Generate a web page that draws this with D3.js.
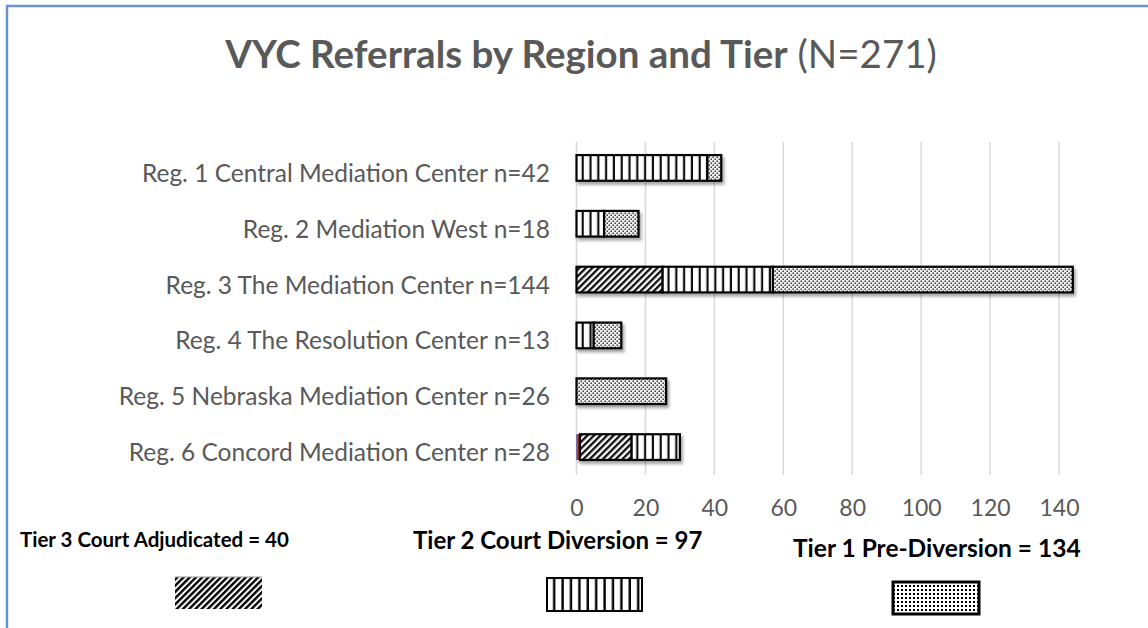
<!DOCTYPE html>
<html>
<head>
<meta charset="utf-8">
<script src="https://cdn.jsdelivr.net/npm/d3@7"></script>
<style>
  body { margin: 0; background: #fff; }
  text { font-family: Lato, "Noto Sans", sans-serif; }
</style>
</head>
<body>
<div id="chart"></div>
<script>
// Chart data
var regions = [
  "Reg. 1 Central Mediation Center n=42",
  "Reg. 2 Mediation West  n=18",
  "Reg. 3 The Mediation Center n=144",
  "Reg. 4 The Resolution Center n=13",
  "Reg. 5 Nebraska Mediation Center n=26",
  "Reg. 6 Concord Mediation Center n=28"
];
var other = [0, 0, 0, 0, 0, 1];
var tier3 = [0, 0, 25, 0, 0, 15];
var tier2 = [38, 8, 32, 5, 0, 14];
var tier1 = [4, 10, 87, 8, 26, 0];
var xTicks = [0, 20, 40, 60, 80, 100, 120, 140];
var legendLabels = ["Tier 3 Court Adjudicated = 40", "Tier 2 Court Diversion = 97", "Tier 1 Pre-Diversion = 134"];
var titleBold = "VYC Referrals by Region and Tier";
var titleRest = " (N=271)";

var width = 1148, height = 628;

var svg = d3.select("#chart").append("svg")
  .attr("width", width)
  .attr("height", height);

svg.append("rect").attr("width", width).attr("height", height).attr("fill", "#fff");

var defs = svg.append("defs");

// Diagonal hatch (tier 3)
var diag = defs.append("pattern")
  .attr("id", "diag").attr("patternUnits", "userSpaceOnUse")
  .attr("width", 4.6).attr("height", 4.6)
  .attr("patternTransform", "rotate(45)");
diag.append("rect").attr("width", 4.6).attr("height", 4.6).attr("fill", "#fff");
diag.append("rect").attr("width", 2.3).attr("height", 4.6).attr("fill", "#111");

var diagBig = defs.append("pattern")
  .attr("id", "diagBig").attr("patternUnits", "userSpaceOnUse")
  .attr("width", 4.4).attr("height", 4.4)
  .attr("patternTransform", "rotate(45)");
diagBig.append("rect").attr("width", 4.4).attr("height", 4.4).attr("fill", "#fff");
diagBig.append("rect").attr("width", 2.4).attr("height", 4.4).attr("fill", "#000");

// Vertical lines (tier 2)
var vert = defs.append("pattern")
  .attr("id", "vert").attr("patternUnits", "userSpaceOnUse")
  .attr("x", 576).attr("width", 7.8).attr("height", 10);
vert.append("rect").attr("width", 7.8).attr("height", 10).attr("fill", "#fff");
vert.append("rect").attr("x", 5.6).attr("width", 2.2).attr("height", 10).attr("fill", "#111");

var vertBig = defs.append("pattern")
  .attr("id", "vertBig").attr("patternUnits", "userSpaceOnUse")
  .attr("x", 547).attr("width", 8.4).attr("height", 10);
vertBig.append("rect").attr("width", 8.4).attr("height", 10).attr("fill", "#fff");
vertBig.append("rect").attr("x", 6).attr("width", 2.4).attr("height", 10).attr("fill", "#000");

// Dots (tier 1)
var dots = defs.append("pattern")
  .attr("id", "dots").attr("patternUnits", "userSpaceOnUse")
  .attr("width", 4).attr("height", 4);
dots.append("rect").attr("width", 4).attr("height", 4).attr("fill", "#eeeeee");
dots.append("rect").attr("x", 0.5).attr("y", 0.5).attr("width", 1.4).attr("height", 1.4).attr("fill", "#222");
dots.append("rect").attr("x", 2.5).attr("y", 2.5).attr("width", 1.4).attr("height", 1.4).attr("fill", "#222");

var dotsBig = defs.append("pattern")
  .attr("id", "dotsBig").attr("patternUnits", "userSpaceOnUse")
  .attr("width", 4).attr("height", 4)
  .attr("shape-rendering", "crispEdges");
dotsBig.append("rect").attr("width", 4).attr("height", 4).attr("fill", "#fff");
dotsBig.append("rect").attr("x", 1).attr("y", 1).attr("width", 2).attr("height", 2).attr("fill", "#000");

// Soft shadow under the bars
var shadow = defs.append("filter").attr("id", "shadow")
  .attr("x", "-5%").attr("y", "-20%").attr("width", "120%").attr("height", "160%");
shadow.append("feDropShadow")
  .attr("dx", 2).attr("dy", 3).attr("stdDeviation", 1.6)
  .attr("flood-color", "#000").attr("flood-opacity", 0.35);

// Outer chart border (only top and left visible in the crop)
svg.append("path")
  .attr("d", "M7," + height + "V6H" + width)
  .attr("fill", "none")
  .attr("stroke", "#6892d2")
  .attr("stroke-width", 2.4);

// Title
var title = svg.append("text")
  .attr("x", 581).attr("y", 68)
  .attr("text-anchor", "middle")
  .attr("fill", "#595959")
  .style("font-size", "38.5px");
title.append("tspan").attr("font-weight", "bold").text(titleBold);
title.append("tspan").text(titleRest);

// Scales
var x = d3.scaleLinear().domain([0, 140]).range([576.5, 1059]);
var y = d3.scaleBand().domain(regions).range([140, 475]).paddingInner(0.54).paddingOuter(0.27);

// Gridlines
svg.append("g").selectAll("line")
  .data(xTicks)
  .enter().append("line")
  .attr("x1", d => x(d)).attr("x2", d => x(d))
  .attr("y1", 142).attr("y2", 475)
  .attr("stroke", "#d9d9d9")
  .attr("stroke-width", 1.5);

// x axis labels
var xAxis = d3.axisBottom(x).tickValues(xTicks).tickSize(0).tickPadding(0);
var gx = svg.append("g")
  .attr("transform", "translate(0,498)")
  .call(xAxis);
gx.select(".domain").remove();
gx.selectAll("text")
  .attr("fill", "#595959")
  .attr("dy", 0).attr("y", 18)
  .style("font-size", "23px")
  .style("font-family", "Lato, sans-serif");

// y axis labels
var yAxis = d3.axisLeft(y).tickSize(0).tickPadding(0);
var gy = svg.append("g")
  .attr("transform", "translate(550,0)")
  .call(yAxis);
gy.select(".domain").remove();
gy.selectAll("text")
  .attr("fill", "#595959")
  .attr("dy", 0).attr("y", 14)
  .style("font-size", "24.5px")
  .style("font-family", "Lato, sans-serif");

// Stacked bars
var keys = ["other", "tier3", "tier2", "tier1"];
var rows = regions.map((r, i) => ({ region: r, other: other[i], tier3: tier3[i], tier2: tier2[i], tier1: tier1[i] }));
var stacked = d3.stack().keys(keys)(rows);
var fills = { other: "#a3262a", tier3: "url(#diag)", tier2: "url(#vert)", tier1: "url(#dots)" };

var segs = [];
stacked.forEach(layer => {
  layer.forEach((d, i) => {
    if (d[1] - d[0] > 0) segs.push({ key: layer.key, i: i, x0: d[0], x1: d[1] });
  });
});

var rowsG = svg.append("g").selectAll("g")
  .data(regions)
  .enter().append("g")
  .attr("filter", "url(#shadow)");

rowsG.each(function(r, i) {
  var g = d3.select(this);
  g.selectAll("rect")
    .data(segs.filter(s => s.i === i))
    .enter().append("rect")
    .attr("x", s => x(s.x0))
    .attr("y", y(r))
    .attr("width", s => x(s.x1) - x(s.x0))
    .attr("height", y.bandwidth())
    .attr("fill", s => fills[s.key])
    .attr("stroke", s => s.key === "other" ? "none" : "#000")
    .attr("stroke-width", 2.2);
  // thin blue edge on the small red piece
  g.selectAll("line.edge")
    .data(segs.filter(s => s.i === i && s.key === "other"))
    .enter().append("line")
    .attr("class", "edge")
    .attr("x1", s => x(s.x0) + 0.7).attr("x2", s => x(s.x0) + 0.7)
    .attr("y1", y(r)).attr("y2", y(r) + y.bandwidth())
    .attr("stroke", "#3c6cc0").attr("stroke-width", 1.4);
});

// Legend text
var legendTextX = [20, 413, 793];
var legendTextY = [547, 549, 557];
var legendSize = [20.5, 24, 24.5];
svg.append("g").selectAll("text")
  .data(legendLabels)
  .enter().append("text")
  .attr("x", (d, i) => legendTextX[i])
  .attr("y", (d, i) => legendTextY[i])
  .attr("font-weight", "bold")
  .attr("fill", "#000")
  .style("font-size", (d, i) => legendSize[i] + "px")
  .text(d => d);

// Legend swatches
var swatches = [
  { x: 175, y: 577, w: 87, h: 32, fill: "url(#diagBig)", stroke: "none", sw: 0 },
  { x: 547, y: 578, w: 95, h: 33, fill: "url(#vertBig)", stroke: "#000", sw: 2 },
  { x: 893, y: 582, w: 86, h: 32, fill: "url(#dotsBig)", stroke: "#000", sw: 3 }
];
svg.append("g").selectAll("rect")
  .data(swatches)
  .enter().append("rect")
  .attr("x", d => d.x).attr("y", d => d.y)
  .attr("width", d => d.w).attr("height", d => d.h)
  .attr("fill", d => d.fill)
  .attr("stroke", d => d.stroke)
  .attr("stroke-width", d => d.sw);
svg.append("line")
  .attr("x1", 175).attr("x2", 262).attr("y1", 577).attr("y2", 577)
  .attr("stroke", "#999").attr("stroke-width", 1);
</script>
</body>
</html>
